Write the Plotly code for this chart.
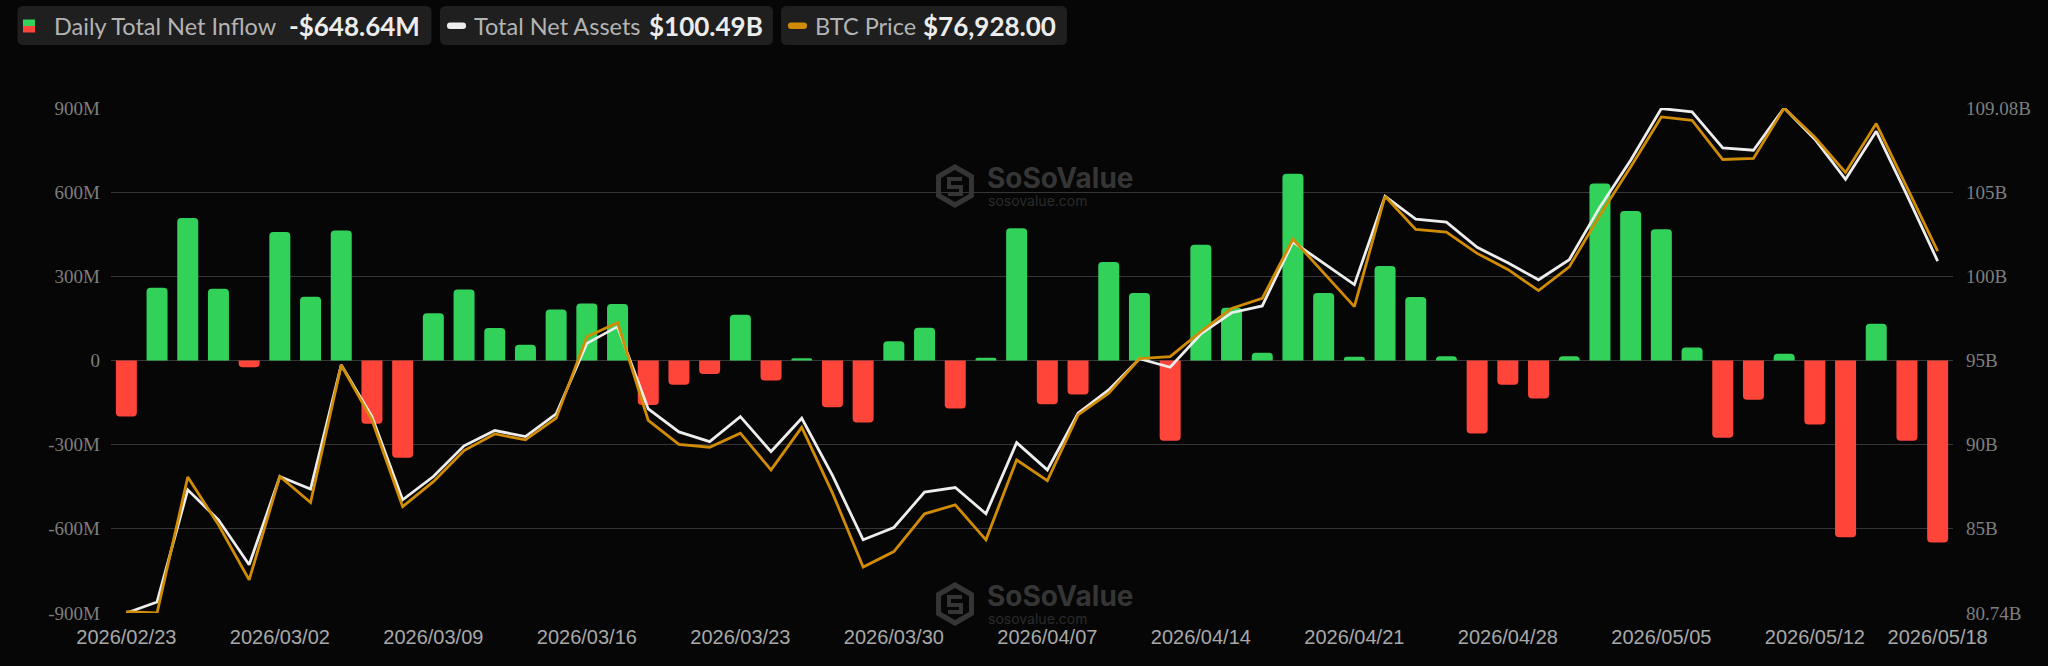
import plotly.graph_objects as go

# trading days shown on the chart
dates = [
    "2026-02-23", "2026-02-24", "2026-02-25", "2026-02-26", "2026-02-27",
    "2026-03-02", "2026-03-03", "2026-03-04", "2026-03-05", "2026-03-06",
    "2026-03-09", "2026-03-10", "2026-03-11", "2026-03-12", "2026-03-13",
    "2026-03-16", "2026-03-17", "2026-03-18", "2026-03-19", "2026-03-20",
    "2026-03-23", "2026-03-24", "2026-03-25", "2026-03-26", "2026-03-27",
    "2026-03-30", "2026-03-31", "2026-04-01", "2026-04-02", "2026-04-06",
    "2026-04-07", "2026-04-08", "2026-04-09", "2026-04-10", "2026-04-13",
    "2026-04-14", "2026-04-15", "2026-04-16", "2026-04-17", "2026-04-20",
    "2026-04-21", "2026-04-22", "2026-04-23", "2026-04-24", "2026-04-27",
    "2026-04-28", "2026-04-29", "2026-04-30", "2026-05-01", "2026-05-04",
    "2026-05-05", "2026-05-06", "2026-05-07", "2026-05-08", "2026-05-11",
    "2026-05-12", "2026-05-13", "2026-05-14", "2026-05-15", "2026-05-18",
]

# daily total net inflow, millions USD
net_inflow_m = [
    -200, 259, 508, 256, -24, 458, 227, 463, -225, -347,
    168, 253, 116, 56, 182, 203, 201, -159, -86, -48,
    163, -71, 8, -167, -221, 69, 117, -171, 10, 471,
    -156, -121, 351, 241, -286, 413, 188, 28, 666, 241,
    13, 337, 226, 15, -260, -86, -135, 15, 631, 533,
    468, 46, -275, -140, 24, -228, -630, 131, -286, -648.64,
]

# total net assets, billions USD
total_net_assets_b = [
    80.74, 81.36, 87.65, 85.97, 83.45, 88.40, 87.69, 94.66, 91.76, 87.09,
    88.40, 90.12, 90.98, 90.64, 91.91, 95.87, 96.81, 92.19, 90.90, 90.36,
    91.76, 89.80, 91.67, 88.46, 84.85, 85.54, 87.52, 87.78, 86.31, 90.30,
    88.77, 91.95, 93.26, 95.01, 94.53, 96.40, 97.59, 97.97, 101.57, 100.36,
    99.17, 104.13, 102.84, 102.67, 101.26, 100.39, 99.44, 100.57, 103.53, 106.15,
    109.05, 108.86, 106.84, 106.71, 109.08, 107.33, 105.08, 107.77, 104.19, 100.49,
]

# BTC price, USD
btc_price = [
    62790, 62740, 68070, 66200, 64040, 68090, 67070, 72460, 70310, 66910,
    67890, 69110, 69760, 69530, 70380, 73570, 74120, 70290, 69350, 69240,
    69790, 68350, 70020, 67450, 64540, 65150, 66630, 66980, 65610, 68740,
    67930, 70510, 71360, 72710, 72790, 73770, 74680, 75080, 77400, 76080,
    74750, 79080, 77780, 77670, 76840, 76210, 75380, 76310, 78340, 80230,
    82190, 82060, 80520, 80560, 82540, 81390, 80010, 81930, 79420, 76928,
]

tick_dates = [
    "2026-02-23", "2026-03-02", "2026-03-09", "2026-03-16", "2026-03-23",
    "2026-03-30", "2026-04-07", "2026-04-14", "2026-04-21", "2026-04-28",
    "2026-05-05", "2026-05-12", "2026-05-18",
]
tick_text = [d.replace("-", "/") for d in tick_dates]

left_tick_vals = [-900, -600, -300, 0, 300, 600, 900]
left_tick_text = ["-900M", "-600M", "-300M", "0", "300M", "600M", "900M"]
right_tick_text = ["80.74B", "85B", "90B", "95B", "100B", "105B", "109.08B"]

legend_labels = ["Daily Total Net Inflow", "Total Net Assets", "BTC Price"]
legend_values = ["-$648.64M", "$100.49B", "$76,928.00"]

GREEN = "#32D15A"
RED = "#FF4539"
WHITE = "#EDEDED"
ORANGE = "#D18C06"
BG = "#060606"
GRID = "#363636"
WM = "#353535"

W, H = 2048, 666
ML, MR, MT, MB = 111, 95, 108, 53
PW, PH = W - ML - MR, H - MT - MB


def px(x):
    return (x - ML) / PW


def py(y):
    return (H - MB - y) / PH


def rounded_rect(x0, y0, x1, y1, r):
    pts = [
        ("M", x0 + r, y0), ("L", x1 - r, y0), ("Q", x1, y0, x1, y0 + r),
        ("L", x1, y1 - r), ("Q", x1, y1, x1 - r, y1), ("L", x0 + r, y1),
        ("Q", x0, y1, x0, y1 - r), ("L", x0, y0 + r), ("Q", x0, y0, x0 + r, y0),
    ]
    out = []
    for p in pts:
        cmd = p[0]
        coords = p[1:]
        s = " ".join(
            "%.5f,%.5f" % (px(coords[i]), py(coords[i + 1]))
            for i in range(0, len(coords), 2)
        )
        out.append(cmd + " " + s)
    return " ".join(out) + " Z"


fig = go.Figure()

bar_colors = [GREEN if v >= 0 else RED for v in net_inflow_m]
fig.add_trace(go.Bar(
    x=dates, y=net_inflow_m, marker=dict(color=bar_colors, line=dict(width=0)),
    name="Daily Total Net Inflow", yaxis="y",
))
fig.add_trace(go.Scatter(
    x=dates, y=total_net_assets_b, mode="lines", name="Total Net Assets",
    line=dict(color=WHITE, width=2.8), yaxis="y2",
))
fig.add_trace(go.Scatter(
    x=dates, y=btc_price, mode="lines", name="BTC Price",
    line=dict(color=ORANGE, width=2.8), yaxis="y3",
))

tna_lo, tna_hi = min(total_net_assets_b), max(total_net_assets_b)
right_tick_vals = [tna_lo + k * (tna_hi - tna_lo) / 6 for k in range(7)]

fig.update_layout(
    width=W, height=H,
    margin=dict(l=ML, r=MR, t=MT, b=MB),
    paper_bgcolor=BG, plot_bgcolor=BG,
    showlegend=False,
    bargap=0.316,
    barcornerradius=4,
    xaxis=dict(
        type="category", tickvals=tick_dates, ticktext=tick_text,
        showgrid=False, showline=False, zeroline=False, ticks="",
        tickfont=dict(family="Liberation Sans, Arial", size=20, color="#a8a8a8"),
        ticklabelstandoff=10,
    ),
    yaxis=dict(
        range=[-900, 900], tickvals=left_tick_vals, ticktext=left_tick_text,
        showgrid=True, gridcolor=GRID, gridwidth=1.2,
        zeroline=True, zerolinecolor=GRID, zerolinewidth=1.2,
        showline=False, ticks="",
        tickfont=dict(family="Liberation Serif, Times New Roman", size=19, color="#7e7e7e"),
        ticklabelstandoff=10,
    ),
    yaxis2=dict(
        overlaying="y", side="right", range=[tna_lo, tna_hi],
        tickvals=right_tick_vals, ticktext=right_tick_text,
        showgrid=False, zeroline=False, showline=False, ticks="",
        tickfont=dict(family="Liberation Serif, Times New Roman", size=19, color="#7e7e7e"),
        ticklabelstandoff=12,
    ),
    yaxis3=dict(
        overlaying="y", range=[min(btc_price), max(btc_price)], visible=False,
    ),
)

shapes = []
annotations = []

# custom legend boxes at the top
boxes = [(17.5, 431.5), (440, 773), (781, 1067)]
label_x = [52, 472, 813]
value_x = [287, 647, 921]
for (x0, x1), lx, vx, lab, val in zip(boxes, label_x, value_x, legend_labels, legend_values):
    shapes.append(dict(type="path", xref="paper", yref="paper",
                       path=rounded_rect(x0, 6, x1, 45, 6),
                       fillcolor="#1f1f1f", line=dict(width=0), layer="above"))
    annotations.append(dict(xref="paper", yref="paper", x=px(lx), y=py(26),
                            xanchor="left", yanchor="middle", showarrow=False,
                            text=lab, font=dict(family="Lato", size=23.5, color="#b4b4b4")))
    annotations.append(dict(xref="paper", yref="paper", x=px(vx), y=py(26),
                            xanchor="left", yanchor="middle", showarrow=False,
                            text="<b>" + val + "</b>",
                            font=dict(family="Lato", size=26, color="#ececec")))

# legend icons
shapes.append(dict(type="rect", xref="paper", yref="paper",
                   x0=px(23), x1=px(35), y0=py(19.5), y1=py(26),
                   fillcolor=GREEN, line=dict(width=0), layer="above"))
shapes.append(dict(type="rect", xref="paper", yref="paper",
                   x0=px(23), x1=px(35), y0=py(26), y1=py(32.5),
                   fillcolor=RED, line=dict(width=0), layer="above"))
shapes.append(dict(type="path", xref="paper", yref="paper",
                   path=rounded_rect(447, 22.5, 466, 29, 3),
                   fillcolor=WHITE, line=dict(width=0), layer="above"))
shapes.append(dict(type="path", xref="paper", yref="paper",
                   path=rounded_rect(788, 22.5, 807, 29, 3),
                   fillcolor=ORANGE, line=dict(width=0), layer="above"))

# SoSoValue watermarks
for cy in (186, 604):
    r = 19
    hexpts = [(0, -r), (0.866 * r, -r / 2), (0.866 * r, r / 2), (0, r),
              (-0.866 * r, r / 2), (-0.866 * r, -r / 2)]
    path = "M " + " L ".join("%.5f,%.5f" % (px(955 + a), py(cy + b)) for a, b in hexpts) + " Z"
    shapes.append(dict(type="path", xref="paper", yref="paper", path=path,
                       line=dict(color=WM, width=5), layer="below"))
    spts = [(7, -7), (-6, -7), (-6, 1), (6, 1), (6, 8), (-7, 8)]
    spath = "M " + " L ".join("%.5f,%.5f" % (px(955 + a), py(cy + b)) for a, b in spts)
    shapes.append(dict(type="path", xref="paper", yref="paper", path=spath,
                       line=dict(color=WM, width=4), layer="below"))
    annotations.append(dict(xref="paper", yref="paper", x=px(985), y=py(cy - 8),
                            xanchor="left", yanchor="middle", showarrow=False,
                            text="<b>SoSoValue</b>",
                            font=dict(family="Inter", size=28, color=WM)))
    annotations.append(dict(xref="paper", yref="paper", x=px(986), y=py(cy + 14),
                            xanchor="left", yanchor="middle", showarrow=False,
                            text="sosovalue.com",
                            font=dict(family="Inter", size=14, color="#2b2b2b")))

fig.update_layout(shapes=shapes, annotations=annotations)

fig.write_html(
    "out.html",
    config={"displayModeBar": False},
    post_script="document.body.style.margin='0px';document.body.style.overflow='hidden';",
)
